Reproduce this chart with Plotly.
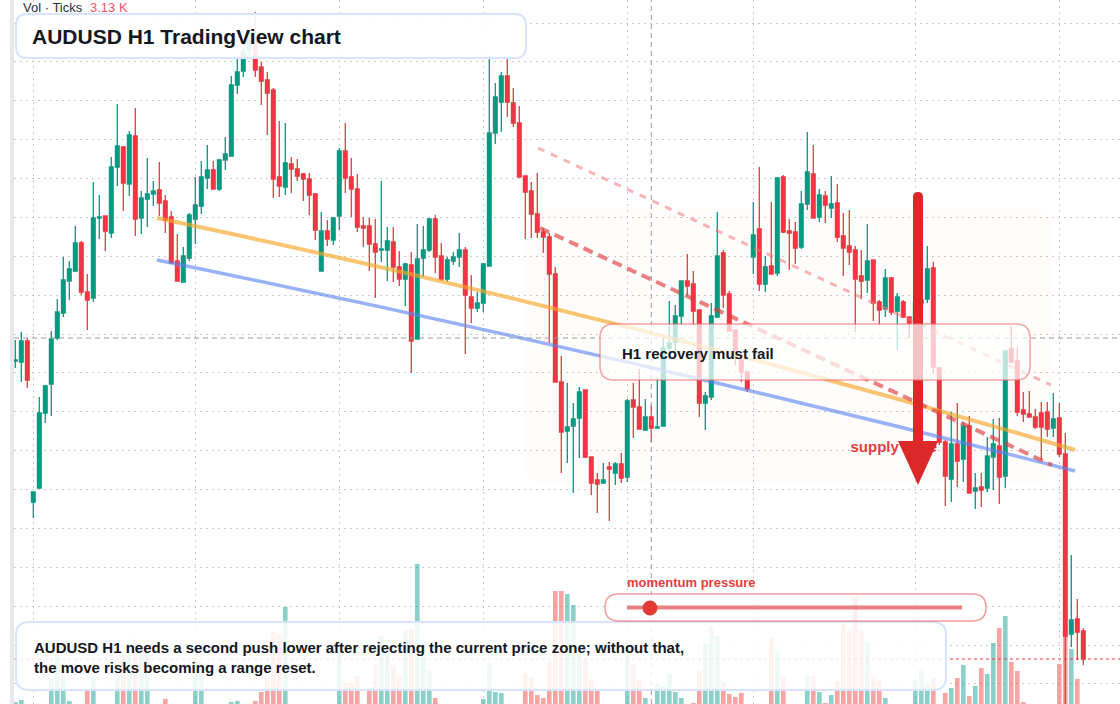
import plotly.graph_objects as go

# ---------------- data (AUDUSD H1) ----------------
open_ = [0.67278,0.67276,0.67318,0.66996,0.67024,0.67174,0.67232,0.67324,0.67374,0.67438,
0.67458,0.67514,0.67416,0.67404,0.67564,0.67568,0.67534,0.67666,0.67706,0.67632,
0.67728,0.67564,0.67602,0.67612,0.67620,0.67598,0.67566,0.67478,0.67436,0.67484,
0.67562,0.67588,0.67644,0.67660,0.67622,0.67680,0.67688,0.67830,0.67858,0.67900,
0.67920,0.67866,0.67840,0.67820,0.67646,0.67626,0.67672,0.67662,0.67652,0.67642,
0.67612,0.67458,0.67538,0.67520,0.67568,0.67698,0.67646,0.67622,0.67548,0.67548,
0.67512,0.67500,0.67500,0.67516,0.67466,0.67442,0.67470,0.67322,0.67484,0.67500,
0.67562,0.67488,0.67442,0.67478,0.67486,0.67500,0.67406,0.67384,0.67394,0.67468,
0.67734,0.67796,0.67848,0.67794,0.67754,0.67648,0.67618,0.67572,0.67536,0.67526,
0.67452,0.67236,0.67138,0.67148,0.67164,0.67220,0.67086,0.67040,0.67034,0.67066,
0.67054,0.67072,0.67046,0.67200,0.67186,0.67140,0.67166,0.67144,0.67148,0.67304,
0.67316,0.67368,0.67438,0.67432,0.67380,0.67194,0.67206,0.67366,0.67494,0.67412,
0.67340,0.67280,0.67256,0.67486,0.67542,0.67432,0.67468,0.67454,0.67646,0.67538,
0.67536,0.67506,0.67592,0.67652,0.67566,0.67608,0.67584,0.67594,0.67528,0.67508,
0.67500,0.67448,0.67440,0.67480,0.67396,0.67382,0.67444,0.67378,0.67396,0.67366,
0.67354,0.67394,0.67402,0.67464,0.67264,0.67116,0.67042,0.67112,0.67082,0.67148,
0.67018,0.67026,0.67024,0.67086,0.67108,0.67048,0.67302,0.67278,0.67180,0.67172,
0.67166,0.67174,0.67176,0.67144,0.67164,0.67092,0.66732,0.66762,0.66738]

high = [0.67320,0.67336,0.67324,0.67016,0.67206,0.67230,0.67338,0.67402,0.67486,0.67478,
0.67548,0.67518,0.67452,0.67636,0.67610,0.67568,0.67686,0.67792,0.67708,0.67738,
0.67784,0.67618,0.67684,0.67638,0.67676,0.67610,0.67578,0.67532,0.67506,0.67574,
0.67646,0.67678,0.67710,0.67678,0.67682,0.67726,0.67848,0.67884,0.67912,0.67930,
0.67976,0.67876,0.67856,0.67824,0.67758,0.67754,0.67686,0.67682,0.67654,0.67654,
0.67614,0.67576,0.67560,0.67566,0.67704,0.67754,0.67684,0.67652,0.67566,0.67564,
0.67562,0.67638,0.67546,0.67546,0.67498,0.67474,0.67496,0.67552,0.67548,0.67564,
0.67570,0.67514,0.67486,0.67496,0.67534,0.67506,0.67450,0.67416,0.67474,0.67886,
0.67834,0.67856,0.67884,0.67824,0.67788,0.67648,0.67636,0.67654,0.67544,0.67534,
0.67466,0.67288,0.67234,0.67194,0.67226,0.67220,0.67086,0.67054,0.67074,0.67076,
0.67076,0.67094,0.67202,0.67234,0.67262,0.67202,0.67190,0.67244,0.67324,0.67398,
0.67390,0.67438,0.67492,0.67458,0.67380,0.67216,0.67394,0.67576,0.67500,0.67418,
0.67340,0.67290,0.67258,0.67596,0.67666,0.67488,0.67596,0.67646,0.67650,0.67562,
0.67556,0.67618,0.67736,0.67710,0.67622,0.67618,0.67648,0.67632,0.67574,0.67580,
0.67508,0.67500,0.67552,0.67480,0.67400,0.67462,0.67446,0.67414,0.67400,0.67366,
0.67400,0.67408,0.67508,0.67476,0.67264,0.67120,0.67176,0.67194,0.67156,0.67168,
0.67054,0.67054,0.67126,0.67162,0.67164,0.67298,0.67348,0.67306,0.67216,0.67218,
0.67182,0.67196,0.67196,0.67214,0.67194,0.67134,0.66890,0.66802,0.66744]

low = [0.67264,0.67236,0.67224,0.66964,0.67024,0.67154,0.67168,0.67320,0.67366,0.67400,
0.67456,0.67410,0.67340,0.67396,0.67522,0.67498,0.67524,0.67628,0.67578,0.67608,
0.67528,0.67532,0.67546,0.67588,0.67568,0.67534,0.67474,0.67438,0.67436,0.67478,
0.67512,0.67572,0.67622,0.67622,0.67618,0.67660,0.67688,0.67812,0.67846,0.67884,
0.67846,0.67790,0.67730,0.67604,0.67606,0.67610,0.67614,0.67638,0.67598,0.67570,
0.67520,0.67458,0.67508,0.67510,0.67540,0.67614,0.67566,0.67536,0.67506,0.67458,
0.67404,0.67476,0.67438,0.67436,0.67428,0.67388,0.67254,0.67322,0.67446,0.67496,
0.67454,0.67438,0.67436,0.67470,0.67466,0.67292,0.67354,0.67376,0.67376,0.67468,
0.67712,0.67736,0.67766,0.67746,0.67646,0.67522,0.67524,0.67524,0.67494,0.67314,
0.67236,0.67054,0.67074,0.67014,0.67084,0.67084,0.67010,0.66974,0.67034,0.66958,
0.67030,0.67034,0.67036,0.67124,0.67142,0.67138,0.67116,0.67144,0.67148,0.67280,
0.67290,0.67350,0.67410,0.67350,0.67166,0.67140,0.67200,0.67366,0.67384,0.67338,
0.67270,0.67236,0.67216,0.67452,0.67418,0.67416,0.67452,0.67448,0.67534,0.67460,
0.67472,0.67502,0.67580,0.67564,0.67556,0.67554,0.67564,0.67516,0.67448,0.67470,
0.67336,0.67402,0.67414,0.67358,0.67350,0.67366,0.67370,0.67300,0.67364,0.67324,
0.67350,0.67388,0.67394,0.67254,0.67110,0.66988,0.66996,0.67026,0.67036,0.67014,
0.66982,0.66986,0.67016,0.67020,0.66992,0.67024,0.67276,0.67168,0.67156,0.67166,
0.67142,0.67080,0.67126,0.67126,0.67086,0.66580,0.66706,0.66680,0.66670]

close = [0.67280,0.67318,0.67240,0.67016,0.67174,0.67228,0.67322,0.67376,0.67440,0.67462,
0.67514,0.67416,0.67400,0.67564,0.67566,0.67538,0.67666,0.67708,0.67634,0.67730,
0.67562,0.67604,0.67612,0.67618,0.67594,0.67560,0.67474,0.67438,0.67488,0.67570,
0.67590,0.67646,0.67660,0.67622,0.67680,0.67692,0.67830,0.67856,0.67896,0.67920,
0.67860,0.67838,0.67814,0.67642,0.67628,0.67674,0.67662,0.67648,0.67642,0.67610,
0.67540,0.67538,0.67522,0.67564,0.67698,0.67644,0.67622,0.67546,0.67544,0.67512,
0.67496,0.67502,0.67518,0.67466,0.67442,0.67472,0.67318,0.67482,0.67500,0.67562,
0.67486,0.67442,0.67480,0.67486,0.67500,0.67410,0.67384,0.67394,0.67472,0.67734,
0.67806,0.67848,0.67796,0.67754,0.67646,0.67616,0.67572,0.67536,0.67526,0.67452,
0.67236,0.67136,0.67146,0.67162,0.67216,0.67086,0.67034,0.67032,0.67040,0.67062,
0.67072,0.67044,0.67198,0.67186,0.67142,0.67166,0.67144,0.67146,0.67304,0.67314,
0.67368,0.67438,0.67428,0.67378,0.67194,0.67208,0.67368,0.67488,0.67410,0.67338,
0.67290,0.67256,0.67222,0.67530,0.67432,0.67466,0.67452,0.67644,0.67536,0.67534,
0.67504,0.67592,0.67656,0.67564,0.67610,0.67590,0.67592,0.67526,0.67504,0.67496,
0.67442,0.67438,0.67478,0.67394,0.67380,0.67444,0.67376,0.67406,0.67366,0.67354,
0.67396,0.67400,0.67462,0.67266,0.67116,0.67048,0.67112,0.67078,0.67148,0.67014,
0.67024,0.67020,0.67088,0.67112,0.67046,0.67298,0.67276,0.67176,0.67172,0.67166,
0.67146,0.67146,0.67142,0.67162,0.67092,0.66728,0.66760,0.66736,0.66682]

volume = [3280,3360,2960,3050,2910,2990,4240,5240,4240,3320,
3010,2940,3720,4280,2980,3060,2920,4440,5160,5160,
5800,5480,5280,2970,3040,3400,2950,3020,2900,3070,
4840,4840,2990,3030,2940,3080,3280,3320,2960,3010,
3320,3680,4320,6080,6000,7080,2950,3040,2980,2910,
3060,2930,3020,2990,5280,4040,4040,4320,3010,3880,
4760,5920,5240,4760,4320,6160,6200,8800,5800,4520,
3440,2970,3050,2940,3010,2960,3080,2990,3400,4840,
3680,3640,3020,2950,3060,4440,4280,3560,3440,4880,
7720,7720,7600,7160,5240,5000,4200,3760,2980,3040,
2930,3070,5160,4800,4160,3440,2990,4000,3920,4400,
3680,3440,3010,3240,4520,5600,6320,5920,4080,3600,
3480,3640,2960,3050,2920,3010,5840,5320,4320,2980,
3060,2940,4320,4320,3680,3240,3560,4120,6400,6120,
7440,6120,5680,4280,4120,3440,3030,2970,3080,2950,
4160,4600,3960,4240,3010,3640,3840,4240,4760,3520,
3920,4640,4400,5640,6240,6720,4880,4520,3280,2990,
3040,2960,3070,2930,4800,5920,5400,4200,3130]

bar_index = list(range(len(close)))
day_ticks = [3, 30, 54, 78, 102, 123, 150, 174]

# annotation anchors (candle index, price)
orange_line = [(23.62, 0.67564), (100.12, 0.67372), (176.62, 0.67100)]
blue_line = [(23.62, 0.67480), (100.12, 0.67293), (176.62, 0.67058)]
upper_dash = [(87.12, 0.67704), (172.61, 0.67230)]
lower_dash = [(87.45, 0.67544), (172.78, 0.67070)]
cross_bar, cross_price = 106, 0.67324
supply_label = (139.2, 0.67104)

# ---------------- figure geometry helpers ----------------
W, H = 1120, 704
ML = 14
PW = W - ML

def px(x):
    return (x - ML) / PW

def py(y):
    return 1 - y / H

def rrect(x0, y0, x1, y1, r):
    a, b = px(x0), px(x1)
    t, bt = py(y0), py(y1)
    rx, ry = r / PW, r / H
    return (f"M {a+rx},{t} L {b-rx},{t} Q {b},{t} {b},{t-ry} "
            f"L {b},{bt+ry} Q {b},{bt} {b-rx},{bt} "
            f"L {a+rx},{bt} Q {a},{bt} {a},{bt+ry} "
            f"L {a},{t-ry} Q {a},{t} {a+rx},{t} Z")

UP, DN = "#089981", "#f23645"
FONT = "Liberation Sans, Arial, sans-serif"

vol_colors = ["rgba(38,166,154,0.53)" if c >= o else "rgba(239,83,80,0.52)"
              for o, c in zip(open_, close)]

fig = go.Figure()
fig.add_trace(go.Bar(x=bar_index, y=volume, yaxis="y2", width=0.78,
                     marker=dict(color=vol_colors, line=dict(width=0)),
                     hoverinfo="skip", showlegend=False))
fig.add_trace(go.Candlestick(x=bar_index, open=open_, high=high, low=low, close=close,
                             yaxis="y3", whiskerwidth=0,
                             increasing=dict(line=dict(color=UP, width=1.3), fillcolor=UP),
                             decreasing=dict(line=dict(color=DN, width=1.3), fillcolor=DN),
                             showlegend=False, hoverinfo="skip"))
fig.add_trace(go.Scatter(x=[supply_label[0]], y=[supply_label[1]], yaxis="y3",
                         mode="text", text=["<b>supply zone</b>"], textposition="middle right",
                         textfont=dict(family=FONT, size=15, color="#e53e3e"),
                         showlegend=False, hoverinfo="skip"))

price_range = [0.66592, 0.68]
shapes = []
# shaded zone
shapes.append(dict(type="path", xref="paper", yref="paper", path=rrect(526, 207, 1051, 483, 14),
                   fillcolor="rgba(240,210,190,0.05)", line=dict(width=0), layer="below"))
# left strip
shapes.append(dict(type="rect", xref="paper", yref="paper", x0=px(10), x1=px(14), y0=0, y1=1,
                   fillcolor="#e8e8ea", line=dict(width=0), layer="below"))

def qpath(pts):
    (x0, y0), (cx, cy), (x1, y1) = pts
    return f"M {x0},{y0} Q {cx},{cy} {x1},{y1}"

shapes.append(dict(type="path", xref="x", yref="y", path=qpath(orange_line),
                   line=dict(color="rgba(247,166,40,0.65)", width=4), layer="above"))
shapes.append(dict(type="path", xref="x", yref="y", path=qpath(blue_line),
                   line=dict(color="rgba(90,130,240,0.62)", width=3.5), layer="above"))
shapes.append(dict(type="line", xref="x", yref="y", x0=upper_dash[0][0], y0=upper_dash[0][1],
                   x1=upper_dash[1][0], y1=upper_dash[1][1],
                   line=dict(color="rgba(240,120,120,0.55)", width=3, dash="7px,7px"), layer="above"))
shapes.append(dict(type="line", xref="x", yref="y", x0=lower_dash[0][0], y0=lower_dash[0][1],
                   x1=lower_dash[1][0], y1=lower_dash[1][1],
                   line=dict(color="rgba(222,60,60,0.65)", width=4, dash="10px,6px"), layer="above"))
# crosshair
shapes.append(dict(type="line", xref="x", yref="paper", x0=cross_bar, x1=cross_bar, y0=0, y1=1,
                   line=dict(color="#9a9a9a", width=1, dash="5px,4px"), layer="above"))
shapes.append(dict(type="line", xref="paper", yref="y", x0=0, x1=1, y0=cross_price, y1=cross_price,
                   line=dict(color="#9a9a9a", width=1, dash="5px,4px"), layer="above"))
# last price line
shapes.append(dict(type="line", xref="paper", yref="y", x0=0, x1=1, y0=close[-1], y1=close[-1],
                   line=dict(color=DN, width=1, dash="dot"), layer="above"))
# arrow
shapes.append(dict(type="path", xref="paper", yref="paper", path=rrect(913, 192, 923, 446, 5),
                   fillcolor="#dc2828", line=dict(width=0), layer="above"))
shapes.append(dict(type="path", xref="paper", yref="paper",
                   path=f"M {px(898)},{py(441)} L {px(938)},{py(441)} L {px(918)},{py(485)} Z",
                   fillcolor="#dc2828", line=dict(width=0), layer="above"))
# boxes
shapes.append(dict(type="path", xref="paper", yref="paper", path=rrect(16, 14, 526, 58, 11),
                   fillcolor="rgba(255,255,255,0.9)", line=dict(color="#d7e4fb", width=2), layer="above"))
shapes.append(dict(type="path", xref="paper", yref="paper", path=rrect(600, 324, 1030, 380, 14),
                   fillcolor="rgba(255,255,255,0.72)", line=dict(color="rgba(235,100,100,0.6)", width=1.5),
                   layer="above"))
shapes.append(dict(type="path", xref="paper", yref="paper", path=rrect(16, 622, 946, 690, 13),
                   fillcolor="rgba(255,255,255,0.86)", line=dict(color="#d7e4fb", width=2), layer="above"))
shapes.append(dict(type="path", xref="paper", yref="paper", path=rrect(605, 594, 986, 621, 13.5),
                   fillcolor="rgba(255,255,255,0.82)", line=dict(color="rgba(235,100,100,0.65)", width=1.5),
                   layer="above"))
shapes.append(dict(type="line", xref="paper", yref="paper", x0=px(627), x1=px(962), y0=py(607.5), y1=py(607.5),
                   line=dict(color="rgba(225,80,80,0.72)", width=4), layer="above"))
shapes.append(dict(type="circle", xref="paper", yref="paper", x0=px(642.5), x1=px(657.5),
                   y0=py(615.5), y1=py(600.5), fillcolor="#e53935", line=dict(width=0), layer="above"))

ann = []
def text(x, y, s, size, color, anchor="left"):
    ann.append(dict(x=px(x), y=py(y), xref="paper", yref="paper", text=s, showarrow=False,
                    xanchor=anchor, yanchor="middle", align="left",
                    font=dict(family=FONT, size=size, color=color)))

text(21, 8, "Vol · Ticks", 13, "#2a2e39")
text(88, 8, "3.13 K", 13, "#f7525f")
text(30, 36, "<b>AUDUSD H1 TradingView chart</b>", 21, "#131722")
text(620, 353, "<b>H1 recovery must fail</b>", 15, "#131722")
text(625, 582, "<b>momentum pressure</b>", 13, "#e53e3e")
text(32, 657, "<b>AUDUSD H1 needs a second push lower after rejecting the current price zone; without that,"
              "<br>the move risks becoming a range reset.</b>", 15, "#131722")

grid = dict(showgrid=True, gridcolor="#c9c9c9", gridwidth=1, griddash="2px,4px")
fig.update_layout(
    width=W, height=H, margin=dict(l=ML, r=0, t=0, b=0),
    paper_bgcolor="white", plot_bgcolor="white", boxgap=0.12,
    showlegend=False, hovermode=False,
    xaxis=dict(range=[(ML - 15.3) / 6, (W - 15.3) / 6], tickvals=day_ticks, showticklabels=False,
               zeroline=False, rangeslider=dict(visible=False), ticks="", **grid),
    yaxis=dict(range=price_range, tick0=0.679538, dtick=0.0007775, showticklabels=False,
               zeroline=False, ticks="", **grid),
    yaxis2=dict(overlaying="y", range=[3200, 31360], visible=False, showgrid=False),
    yaxis3=dict(overlaying="y", range=price_range, visible=False, showgrid=False),
    shapes=shapes, annotations=ann,
)
fig.write_html("out.html")
